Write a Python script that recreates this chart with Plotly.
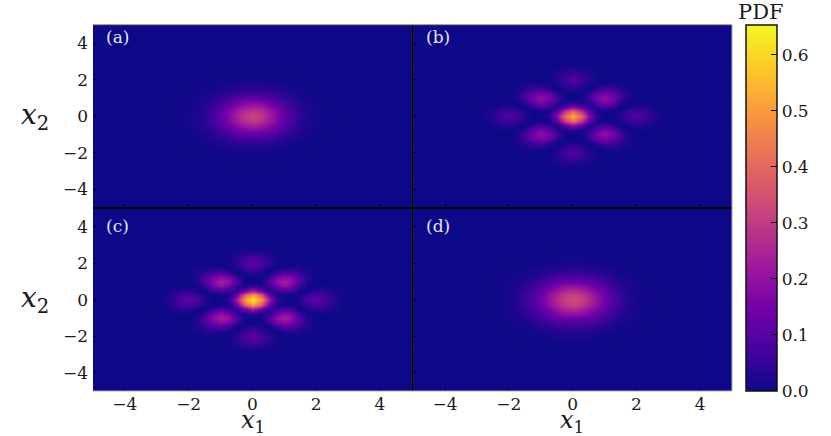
# plot.py: four PDF maps on x1/x2 with a shared plasma colour bar.
# Tables hold the upper-right quadrant, mirrored into the others.

import numpy as np
import plotly.graph_objects as go
from plotly.subplots import make_subplots

GRID_STEPS = [0, 0.25, 0.5, 0.75, 1, 1.25, 1.5, 1.75, 2, 2.25, 2.5, 2.75, 3]
TICKS = [-4, -2, 0, 2, 4]
BAR_TICKS = [0, 0.1, 0.2, 0.3, 0.4, 0.5, 0.6]
Z_MAX = 0.653
PANEL_LABELS = ["(a)", "(b)", "(c)", "(d)"]

PDF_A = [
    [.320, .295, .240, .175, .115, .070, .040, .022, .011, .005, .002, .001, 0],
    [.295, .272, .225, .165, .110, .067, .038, .021, .011, .005, .002, .001, 0],
    [.240, .225, .187, .140, .094, .058, .034, .019, .009, .004, .002, .001, 0],
    [.175, .165, .140, .105, .070, .045, .027, .015, .008, .003, .001, 0, 0],
    [.115, .110, .094, .070, .050, .032, .019, .011, .005, .002, .001, 0, 0],
    [.070, .067, .058, .045, .032, .021, .013, .007, .003, .001, 0, 0, 0],
    [.040, .038, .034, .027, .019, .013, .008, .004, .002, .001, 0, 0, 0],
    [.022, .021, .019, .015, .011, .007, .004, .002, .001, 0, 0, 0, 0],
    [.011, .011, .009, .008, .005, .003, .002, .001, .001, 0, 0, 0, 0],
    [.005, .005, .004, .003, .002, .001, .001, 0, 0, 0, 0, 0, 0],
    [.002, .002, .002, .001, .001, 0, 0, 0, 0, 0, 0, 0, 0],
    [.001, .001, .001, 0, 0, 0, 0, 0, 0, 0, 0, 0, 0],
    [0, 0, 0, 0, 0, 0, 0, 0, 0, 0, 0, 0, 0],
]

PDF_B = [
    [.530, .410, .190, .040, 0, .002, .030, .070, .090, .072, .036, .012, .002],
    [.410, .300, .115, .010, .006, 0, .015, .050, .065, .053, .026, .010, .002],
    [.190, .115, .020, .040, .070, .040, 0, .012, .030, .028, .016, .006, .001],
    [.040, .010, .040, .115, .165, .125, .040, .004, .004, .007, .005, .002, .001],
    [0, .006, .070, .165, .190, .150, .075, .016, 0, .001, .001, .001, 0],
    [.002, 0, .040, .125, .150, .125, .065, .024, .004, 0, 0, 0, 0],
    [.030, .015, 0, .040, .075, .065, .037, .016, .005, .001, 0, 0, 0],
    [.070, .050, .012, .004, .016, .024, .016, .008, .003, .001, 0, 0, 0],
    [.090, .065, .030, .004, 0, .004, .005, .003, .001, 0, 0, 0, 0],
    [.072, .053, .028, .007, .001, 0, .001, .001, 0, 0, 0, 0, 0],
    [.036, .026, .016, .005, .001, 0, 0, 0, 0, 0, 0, 0, 0],
    [.012, .010, .006, .002, .001, 0, 0, 0, 0, 0, 0, 0, 0],
    [.002, .002, .001, .001, 0, 0, 0, 0, 0, 0, 0, 0, 0],
]

PDF_C = [
    [.650, .505, .240, .050, 0, .003, .035, .085, .110, .090, .045, .015, .003],
    [.505, .380, .140, .012, .008, 0, .018, .060, .080, .065, .032, .012, .002],
    [.240, .140, .025, .050, .085, .050, 0, .015, .040, .035, .020, .007, .001],
    [.050, .012, .050, .140, .200, .150, .050, .005, .005, .008, .006, .002, .001],
    [0, .008, .085, .200, .232, .180, .090, .020, 0, .001, .001, .001, 0],
    [.003, 0, .050, .150, .180, .150, .080, .030, .004, 0, 0, 0, 0],
    [.035, .018, 0, .050, .090, .080, .045, .020, .006, .001, 0, 0, 0],
    [.085, .060, .015, .005, .020, .030, .020, .010, .003, .001, 0, 0, 0],
    [.110, .080, .040, .005, 0, .004, .006, .003, .001, 0, 0, 0, 0],
    [.090, .065, .035, .008, .001, 0, .001, .001, 0, 0, 0, 0, 0],
    [.045, .032, .020, .006, .001, 0, 0, 0, 0, 0, 0, 0, 0],
    [.015, .012, .007, .002, .001, 0, 0, 0, 0, 0, 0, 0, 0],
    [.003, .002, .001, .001, 0, 0, 0, 0, 0, 0, 0, 0, 0],
]

PDF_D = [
    [.335, .315, .265, .200, .140, .090, .055, .030, .016, .008, .003, .001, 0],
    [.315, .295, .250, .190, .133, .087, .053, .029, .016, .008, .003, .001, 0],
    [.265, .250, .210, .163, .116, .076, .047, .026, .014, .007, .003, .001, 0],
    [.200, .190, .163, .128, .090, .060, .037, .021, .012, .005, .002, .001, 0],
    [.140, .133, .116, .090, .067, .045, .027, .016, .008, .004, .002, 0, 0],
    [.090, .087, .076, .060, .045, .030, .018, .011, .005, .002, .001, 0, 0],
    [.055, .053, .047, .037, .027, .018, .012, .007, .003, .001, 0, 0, 0],
    [.030, .029, .026, .021, .016, .011, .007, .004, .002, .001, 0, 0, 0],
    [.016, .016, .014, .012, .008, .005, .003, .002, .001, 0, 0, 0, 0],
    [.008, .008, .007, .005, .004, .002, .001, .001, 0, 0, 0, 0, 0],
    [.003, .003, .003, .002, .002, .001, 0, 0, 0, 0, 0, 0, 0],
    [.001, .001, .001, .001, 0, 0, 0, 0, 0, 0, 0, 0, 0],
    [0, 0, 0, 0, 0, 0, 0, 0, 0, 0, 0, 0, 0],
]

TEXT_FONT = "DejaVu Serif"


def mirror(quadrant):
    """Unfold a quadrant table into the full symmetric map."""
    q = np.array(quadrant)
    top = np.hstack([q[:, :0:-1], q])
    return np.vstack([top[:0:-1], top])


steps = np.array(GRID_STEPS)
grid = np.concatenate([-steps[:0:-1], steps])

fig = make_subplots(rows=2, cols=2, horizontal_spacing=0.002, vertical_spacing=0.003)

for n, table in enumerate([PDF_A, PDF_B, PDF_C, PDF_D]):
    row, col = n // 2 + 1, n % 2 + 1
    fig.add_trace(
        go.Heatmap(x=grid, y=grid, z=mirror(table), zsmooth="best", coloraxis="coloraxis"),
        row=row, col=col,
    )
    fig.update_xaxes(
        range=[-5, 5], tickvals=TICKS, ticks="inside", ticklen=3, tickcolor="black",
        showticklabels=row == 2, showgrid=False, zeroline=False, ticklabelstandoff=1,
        row=row, col=col,
    )
    fig.update_yaxes(
        range=[-5, 5], tickvals=TICKS, ticks="inside", ticklen=3, tickcolor="black",
        showticklabels=col == 1, showgrid=False, zeroline=False, ticklabelstandoff=4,
        row=row, col=col,
    )
    fig.add_annotation(
        text=PANEL_LABELS[n], xref="x domain", yref="y domain",
        x=0.035, y=0.934 if row == 1 else 0.907,
        xanchor="left", yanchor="middle", showarrow=False,
        font=dict(size=17, color="#e6e6ee"),
        row=row, col=col,
    )

# x1 / x2 labels sit outside the panels
for x_pos in [0.25, 0.75]:
    fig.add_annotation(
        text="<i>x</i><sub>1</sub>", xref="paper", yref="paper", x=x_pos, y=-0.083,
        xanchor="center", yanchor="middle", showarrow=False, font=dict(size=24),
    )
for y_pos in [0.75, 0.25]:
    fig.add_annotation(
        text="<i>x</i><sub>2</sub>", xref="paper", yref="paper", x=-0.09, y=y_pos,
        xanchor="center", yanchor="middle", showarrow=False, font=dict(size=28),
    )
fig.add_annotation(
    text="PDF", xref="paper", yref="paper", x=1.045, y=1.035,
    xanchor="center", yanchor="middle", showarrow=False, font=dict(size=21),
)

# frame lines: black between panels, grey on the outer right and bottom edges
fig.add_shape(type="line", xref="paper", yref="paper", x0=0.5, x1=0.5, y0=0, y1=1,
              line=dict(color="black", width=2))
fig.add_shape(type="line", xref="paper", yref="paper", x0=0, x1=1, y0=0.5, y1=0.5,
              line=dict(color="black", width=2))
fig.add_shape(type="line", xref="paper", yref="paper", x0=0, x1=1, y0=1, y1=1,
              line=dict(color="#444444", width=1))
fig.add_shape(type="line", xref="paper", yref="paper", x0=1, x1=1, y0=0, y1=1,
              line=dict(color="#aaaaaa", width=1))
fig.add_shape(type="line", xref="paper", yref="paper", x0=0, x1=1, y0=0, y1=0,
              line=dict(color="#aaaaaa", width=1))

fig.update_layout(
    width=831,
    height=436,
    margin=dict(l=93, r=99, t=25, b=45),
    paper_bgcolor="white",
    plot_bgcolor="#0d0887",
    font=dict(family=TEXT_FONT, size=17, color="#1a1a1a"),
    showlegend=False,
    coloraxis=dict(
        colorscale="Plasma",
        cmin=0,
        cmax=Z_MAX,
        colorbar=dict(
            x=1.022, xanchor="left", xpad=0, ypad=0, y=0.5, yanchor="middle",
            len=1, thickness=31, tickvals=BAR_TICKS, tickformat=".1f",
            ticks="inside", ticklen=6, tickcolor="black",
            outlinecolor="#111111", outlinewidth=1.5,
        ),
    ),
)

fig.write_html(
    "out.html",
    config={"displayModeBar": False},
    post_script="document.body.style.margin='0'",
)
